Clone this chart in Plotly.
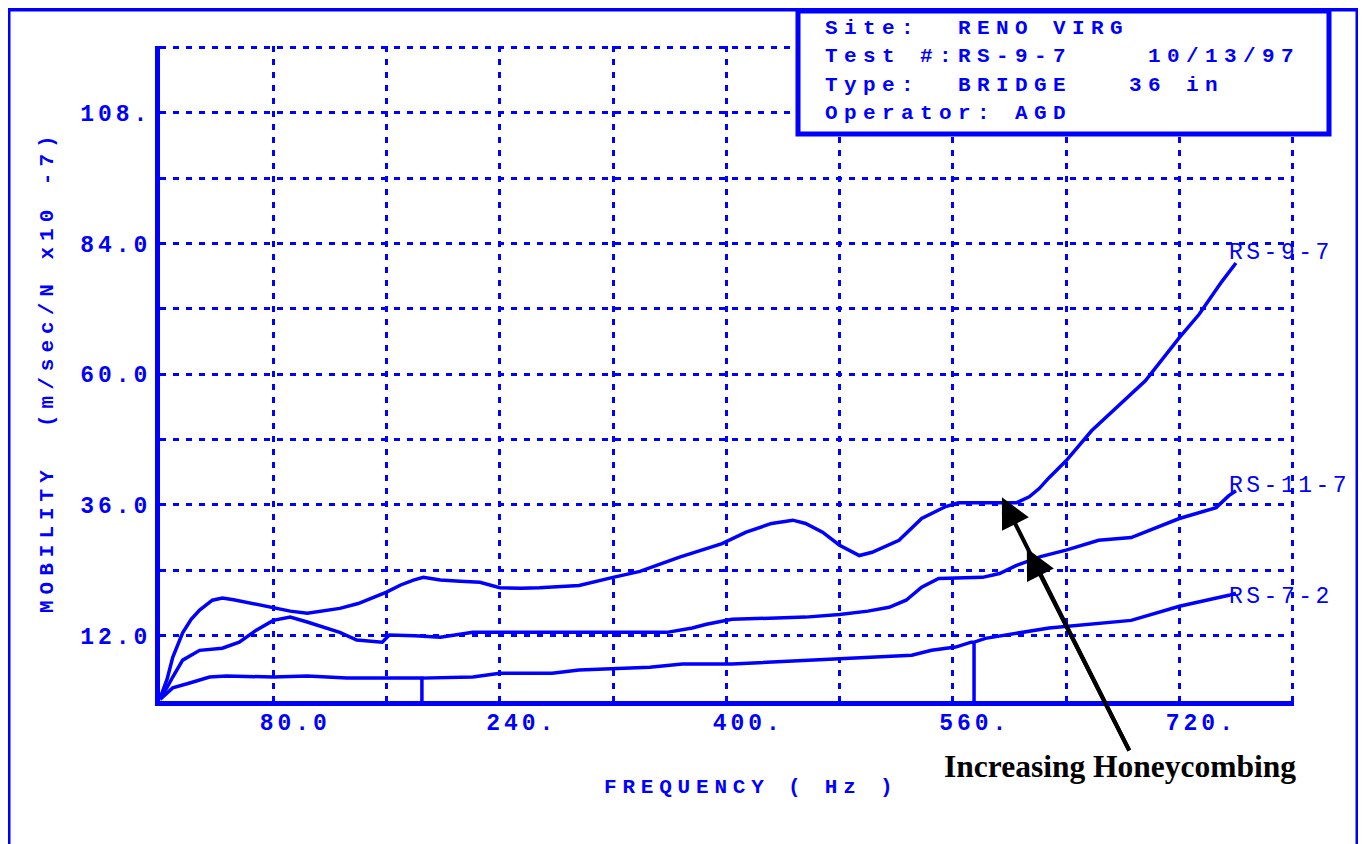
import plotly.graph_objects as go

BLUE = "#0000ff"
MONO = "Liberation Mono, Courier New, monospace"
SERIF = "Liberation Serif, Times New Roman, serif"

# ---------------- data ----------------
rs97_hz = [0, 5, 9, 16, 22, 28, 37, 44, 52, 63, 80, 92, 104, 115, 127, 140, 150, 160, 170,
           179, 186, 198, 212, 226, 240, 255, 268, 280, 296, 320, 339, 367, 397, 414, 432,
           447, 456, 468, 480, 494, 503, 522, 538, 555, 564, 590, 605, 614, 621, 628, 640,
           658, 677, 696, 720, 734, 750, 760]
rs97_mob = [0.5, 4, 8, 12.5, 15, 16.7, 18.5, 18.9, 18.6, 18.0, 17.2, 16.5, 16.1, 16.5, 17.0,
            17.9, 18.9, 20.0, 21.3, 22.2, 22.7, 22.2, 22.0, 21.8, 20.8, 20.7, 20.8, 21.0,
            21.2, 22.7, 23.8, 26.4, 28.9, 31.0, 32.6, 33.2, 32.6, 31.0, 28.6, 26.7, 27.3,
            29.5, 33.5, 35.7, 36.4, 36.4, 36.4, 37.5, 39.0, 41.0, 44.1, 49.6, 54.2, 58.8,
            66.7, 71.0, 77.0, 80.4]

rs117_hz = [0, 5, 9, 16, 28, 44, 56, 68, 80, 92, 104, 116, 127, 139, 157, 162, 180, 198, 221,
            268, 300, 358, 376, 386, 404, 430, 456, 480, 500, 515, 527, 538, 550, 581, 593,
            605, 622, 640, 663, 686, 705, 720, 746, 755, 760]
rs117_mob = [0.5, 2.5, 4.4, 7.5, 9.3, 9.7, 10.8, 13.0, 14.8, 15.4, 14.5, 13.5, 12.6, 11.2,
             10.8, 12.1, 12.0, 11.7, 12.6, 12.6, 12.6, 12.6, 13.4, 14.1, 15.0, 15.2, 15.4,
             15.9, 16.5, 17.2, 18.5, 20.9, 22.5, 22.7, 23.4, 24.9, 26.5, 27.7, 29.5, 30.0,
             32.0, 33.5, 35.5, 37.7, 38.6]

rs72_hz = [0, 5, 9, 21, 35, 47, 80, 104, 132, 174, 185, 185, 185, 221, 240, 277, 296, 346,
           369, 404, 444, 480, 503, 531, 545, 562, 573, 575, 575, 575, 583, 628, 686, 720,
           755, 760]
rs72_mob = [0.3, 1.5, 2.4, 3.3, 4.4, 4.6, 4.4, 4.6, 4.2, 4.2, 4.2, 0.0, 4.2, 4.4, 5.1, 5.1,
            5.7, 6.2, 6.8, 6.8, 7.3, 7.7, 8.1, 8.4, 9.3, 9.9, 10.8, 10.8, 0.0, 10.8, 11.5,
            13.4, 14.8, 17.4, 19.4, 19.8]

series_names = ["RS-9-7", "RS-11-7", "RS-7-2"]

x_tick_vals = [80, 240, 400, 560, 720]
x_tick_text = ["80.0", "240.", "400.", "560.", "720."]
y_tick_vals = [12, 36, 60, 84, 108]
y_tick_text = ["12.0", "36.0", "60.0", "84.0", "108."]

info_lines = ["Site:\u00a0\u00a0RENO VIRG",
              "Test #:RS-9-7\u00a0\u00a0\u00a0\u00a010/13/97",
              "Type:\u00a0\u00a0BRIDGE\u00a0\u00a0\u00a036 in",
              "Operator: AGD"]

x_title = "FREQUENCY ( Hz )"
y_title = "MOBILITY\u00a0\u00a0(m/sec/N x10 -7)"
note_text = "Increasing Honeycombing"
arrow_tip_hz = [594.7, 612.3]
arrow_tip_mob = [37.4, 28.0]


def spaced(t, ls=5):
    return f'<span style="letter-spacing:{ls}px">{t}</span>'


# ---------------- figure ----------------
fig = go.Figure()
series = [(rs97_hz, rs97_mob), (rs117_hz, rs117_mob), (rs72_hz, rs72_mob)]
for (xs, ys), name in zip(series, series_names):
    fig.add_trace(go.Scatter(x=xs, y=ys, mode="lines", name=name, showlegend=False,
                             line=dict(color=BLUE, width=3.5)))

# the page adds an 8px body margin; plot area in page pixels: 160..1294 x 46..701
OFF = 8
PL, PR, PT, PB = 160, 1294, 46, 701
W, H = 1366 - OFF, 844 - OFF
pw, ph = PR - PL, PB - PT


def px(xp):
    return (xp - PL) / pw


def py(yp):
    return (PB - yp) / ph


grid = dict(gridcolor=BLUE, gridwidth=2.5, griddash="6px,7px")

fig.update_layout(
    width=W, height=H,
    margin=dict(l=PL - OFF, r=1366 - PR, t=PT - OFF, b=844 - PB, pad=0),
    paper_bgcolor="white", plot_bgcolor="white",
    xaxis=dict(range=[0, 801], showline=True, linecolor=BLUE, linewidth=5, mirror=False,
               zeroline=False, ticks="", tickmode="array", tickvals=x_tick_vals,
               ticktext=[spaced(t, 4) for t in x_tick_text], showgrid=True, **grid,
               minor=dict(tickmode="linear", tick0=0, dtick=80, showgrid=True, **grid),
               tickfont=dict(family=MONO, size=23, color=BLUE, weight="bold"),
               ticklabelshift=22, ticklabelstandoff=-4),
    yaxis=dict(range=[0, 120.25], showline=True, linecolor=BLUE, linewidth=5, mirror=False,
               zeroline=False, ticks="", tickmode="array", tickvals=y_tick_vals,
               ticktext=[spaced(t, 4) for t in y_tick_text], showgrid=True, **grid,
               minor=dict(tickmode="linear", tick0=0, dtick=12, showgrid=True, **grid),
               tickfont=dict(family=MONO, size=23, color=BLUE, weight="bold"),
               ticklabelstandoff=-1),
)

# outer frame and info box
fig.add_shape(type="rect", xref="paper", yref="paper", x0=px(8), x1=px(1358), y0=py(880),
              y1=py(9), line=dict(color=BLUE, width=5), fillcolor="rgba(0,0,0,0)", layer="above")
fig.add_shape(type="rect", xref="paper", yref="paper", x0=px(798), x1=px(1329), y0=py(134),
              y1=py(11), line=dict(color=BLUE, width=5), fillcolor="white", layer="above")

for i, line in enumerate(info_lines):
    fig.add_annotation(xref="paper", yref="paper", x=px(823), y=py(28 + 28.5 * i),
                       xanchor="left", yanchor="middle", showarrow=False,
                       text=spaced(line, 6.4),
                       font=dict(family=MONO, size=21, color=BLUE, weight="bold"))

# curve end labels
label_shift = [10, 5, -4]
for (xs, ys), name, ysh in zip(series, series_names, label_shift):
    fig.add_annotation(x=xs[-1], y=ys[-1], xanchor="left", yanchor="middle", xshift=-9,
                       yshift=ysh, showarrow=False, text=spaced(name, 3.5),
                       font=dict(family=MONO, size=23, color=BLUE))

# axis titles
fig.add_annotation(xref="paper", yref="paper", x=px(751), y=py(787), showarrow=False,
                   xanchor="center", yanchor="middle", text=spaced(x_title, 5.8),
                   font=dict(family=MONO, size=21, color=BLUE, weight="bold"))
fig.add_annotation(xref="paper", yref="paper", x=px(47), y=py(371), showarrow=False,
                   xanchor="center", yanchor="middle", textangle=-90,
                   text=spaced(y_title, 6),
                   font=dict(family=MONO, size=21, color=BLUE, weight="bold"))

# honeycombing note with arrows
tail_x, tail_y = 1130, 752
for hx, hy in zip(arrow_tip_hz, arrow_tip_mob):
    tip_xp = PL + hx / 801 * pw
    tip_yp = PT + (1 - hy / 120.25) * ph
    fig.add_annotation(x=hx, y=hy, text="", showarrow=True, arrowhead=2, arrowsize=1.5,
                       arrowwidth=4, arrowcolor="black", standoff=0,
                       ax=tail_x - tip_xp, ay=tail_y - tip_yp)
fig.add_annotation(xref="paper", yref="paper", x=px(1120), y=py(767), showarrow=False,
                   xanchor="center", yanchor="middle", text=note_text,
                   font=dict(family=SERIF, size=31.5, color="black", weight="bold"))

fig.write_html("out.html")
